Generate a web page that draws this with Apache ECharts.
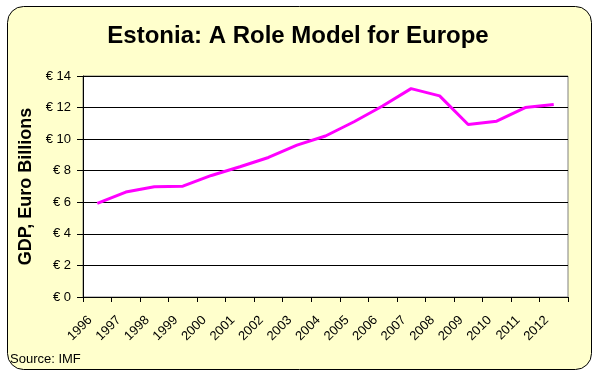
<!DOCTYPE html>
<html>
<head>
<meta charset="utf-8">
<script src="https://cdn.jsdelivr.net/npm/echarts@6/dist/echarts.min.js"></script>
<style>
html,body{margin:0;padding:0;background:#ffffff;}
#chart{width:596px;height:374px;}
</style>
</head>
<body>
<div id="chart"></div>
<script>
const titleText = 'Estonia: A Role Model for Europe';
const yAxisName = 'GDP, Euro Billions';
const sourceText = 'Source: IMF';
const years = ['1996','1997','1998','1999','2000','2001','2002','2003','2004','2005','2006','2007','2008','2009','2010','2011','2012'];
const gdp = [5.93, 6.65, 6.98, 7.02, 7.7, 8.25, 8.84, 9.62, 10.2, 11.1, 12.1, 13.2, 12.74, 10.93, 11.14, 12.0, 12.2];
const yTicks = [0, 2, 4, 6, 8, 10, 12, 14];

const chart = echarts.init(document.getElementById('chart'), null, {renderer:'canvas'});
chart.setOption({
  animation: false,
  backgroundColor: '#ffffff',
  graphic: [
    {type:'rect', z:-10, shape:{x:7.5, y:6.5, width:584, height:363, r:16},
     style:{fill:'#FFFFCC', stroke:'#000000', lineWidth:1}},
    {type:'text', left:10, top:353, z:10,
     style:{text:sourceText, font:'13px "Liberation Sans", Arial, sans-serif', fill:'#000'}}
  ],
  title: {
    text: titleText, left:'center', top:19,
    textStyle:{fontFamily:'"Liberation Sans", Arial, sans-serif', fontWeight:'bold', fontSize:24, color:'#000'}
  },
  grid: {left:83, right:28, top:76, bottom:77, show:true, backgroundColor:'#ffffff', borderColor:'#808080', borderWidth:1},
  xAxis: {
    type:'category', data: years, boundaryGap:true,
    axisLine:{lineStyle:{color:'#000', width:1}},
    axisTick:{show:true, length:5, lineStyle:{color:'#000'}},
    axisLabel:{rotate:45, margin:14, color:'#000', fontSize:13, fontFamily:'"Liberation Sans", Arial, sans-serif', interval:0, padding:[0,10,0,0]}
  },
  yAxis: {
    type:'value', min:yTicks[0], max:yTicks[yTicks.length-1], interval:2,
    name: yAxisName, nameLocation:'middle', nameGap:47, nameRotate:90,
    nameTextStyle:{fontFamily:'"Liberation Sans", Arial, sans-serif', fontWeight:'bold', fontSize:18, color:'#000'},
    axisLine:{show:true, lineStyle:{color:'#000', width:1}},
    axisTick:{show:true, length:6, lineStyle:{color:'#000'}},
    axisLabel:{formatter:'€ {value}', margin:12, color:'#000', fontSize:13, fontFamily:'"Liberation Sans", Arial, sans-serif'},
    splitLine:{show:true, lineStyle:{color:'#000', width:1}}
  },
  series: [{
    type:'line', data: gdp, showSymbol:false, symbol:'none',
    lineStyle:{color:'#FF00FF', width:3}, itemStyle:{color:'#FF00FF'}
  }]
});
</script>
</body>
</html>
